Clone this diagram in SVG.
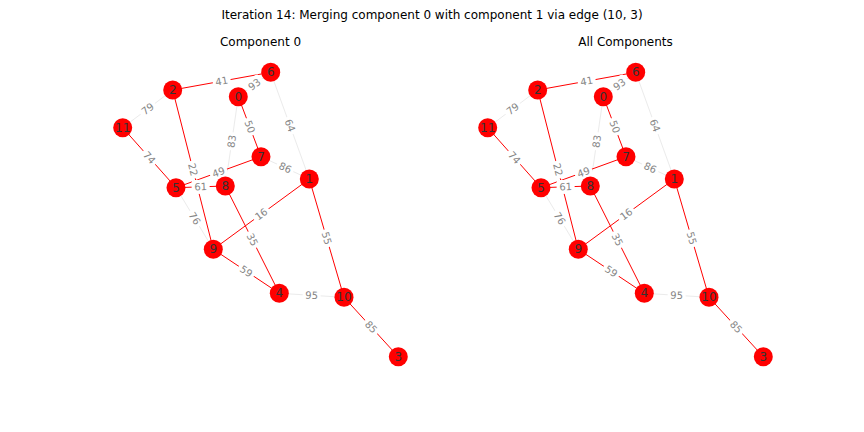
<svg xmlns="http://www.w3.org/2000/svg" width="864" height="432" viewBox="0 0 864 432">
<style>
text{font-family:"DejaVu Sans","Liberation Sans",sans-serif}
.title{font-size:12px;fill:#000;text-anchor:middle}
.eg{stroke:#ebebeb;stroke-width:1;fill:none}
.er{stroke:#ff0000;stroke-width:1;fill:none}
.lb text{font-size:10px;fill:#858585;text-anchor:middle;dominant-baseline:central}
.nd circle{fill:#ff0000}
.nd text{font-size:12px;fill:#333;text-anchor:middle;dominant-baseline:central}
</style>
<defs>
<rect id="bx" x="-9" y="-7" width="18" height="14" rx="3" fill="#fff"/>
</defs>
<rect width="864" height="432" fill="#fff"/>
<text class="title" x="432" y="19">Iteration 14: Merging component 0 with component 1 via edge (10, 3)</text>
<text class="title" x="260.5" y="46">Component 0</text>
<text class="title" x="625.5" y="46">All Components</text>

<!-- LEFT PANEL -->
<g id="left-connectors">
<line class="eg" x1="238.3" y1="96.7" x2="270.7" y2="72.3"/>
<line class="eg" x1="270.7" y1="72.3" x2="309.3" y2="179"/>
<line class="eg" x1="172.7" y1="90" x2="122.7" y2="127.7"/>
<line class="eg" x1="238.3" y1="96.7" x2="225.3" y2="186"/>
<line class="eg" x1="261" y1="156.7" x2="309.3" y2="179"/>
<line class="eg" x1="176" y1="187.7" x2="213.3" y2="249.3"/>
<line class="eg" x1="279.3" y1="293.3" x2="344" y2="297.3"/>
<line class="er" x1="172.7" y1="90" x2="270.7" y2="72.3"/>
<line class="er" x1="172.7" y1="90" x2="213.3" y2="249.3"/>
<line class="er" x1="238.3" y1="96.7" x2="261" y2="156.7"/>
<line class="er" x1="122.7" y1="127.7" x2="176" y2="187.7"/>
<line class="er" x1="176" y1="187.7" x2="261" y2="156.7"/>
<line class="er" x1="176" y1="187.7" x2="225.3" y2="186"/>
<line class="er" x1="213.3" y1="249.3" x2="309.3" y2="179"/>
<line class="er" x1="225.3" y1="186" x2="279.3" y2="293.3"/>
<line class="er" x1="213.3" y1="249.3" x2="279.3" y2="293.3"/>
<line class="er" x1="309.3" y1="179" x2="344" y2="297.3"/>
<line class="er" x1="344" y1="297.3" x2="398.3" y2="356.7"/>
<g class="lb" transform="translate(221.7,81.15) rotate(-10.2)"><use href="#bx"/><text>41</text></g>
<g class="lb" transform="translate(254.5,84.5) rotate(-37)"><use href="#bx"/><text>93</text></g>
<g class="lb" transform="translate(290,125.65) rotate(70.1)"><use href="#bx"/><text>64</text></g>
<g class="lb" transform="translate(147.7,108.85) rotate(-37)"><use href="#bx"/><text>79</text></g>
<g class="lb" transform="translate(193,169.65) rotate(75.7)"><use href="#bx"/><text>22</text></g>
<g class="lb" transform="translate(249.65,126.7) rotate(69.3)"><use href="#bx"/><text>50</text></g>
<g class="lb" transform="translate(231.8,141.35) rotate(-81.7)"><use href="#bx"/><text>83</text></g>
<g class="lb" transform="translate(149.35,157.7) rotate(48.4)"><use href="#bx"/><text>74</text></g>
<g class="lb" transform="translate(218.5,172.2) rotate(-20)"><use href="#bx"/><text>49</text></g>
<g class="lb" transform="translate(285.15,167.85) rotate(24.8)"><use href="#bx"/><text>86</text></g>
<g class="lb" transform="translate(200.65,186.85) rotate(-2)"><use href="#bx"/><text>61</text></g>
<g class="lb" transform="translate(194.65,218.5) rotate(58.8)"><use href="#bx"/><text>76</text></g>
<g class="lb" transform="translate(261.3,214.15) rotate(-36.2)"><use href="#bx"/><text>16</text></g>
<g class="lb" transform="translate(252.3,239.65) rotate(63.3)"><use href="#bx"/><text>35</text></g>
<g class="lb" transform="translate(246.3,271.3) rotate(33.7)"><use href="#bx"/><text>59</text></g>
<g class="lb" transform="translate(326.65,238.15) rotate(73.7)"><use href="#bx"/><text>55</text></g>
<g class="lb" transform="translate(311.65,295.3) rotate(3.5)"><use href="#bx"/><text>95</text></g>
<g class="lb" transform="translate(371.15,327) rotate(47.6)"><use href="#bx"/><text>85</text></g>
</g>
<g id="L-n0" class="nd"><circle cx="238.3" cy="96.7" r="9.5"/><text x="238.3" y="96.7">0</text></g>
<g id="L-n1" class="nd"><circle cx="309.3" cy="179" r="9.5"/><text x="309.3" y="179">1</text></g>
<g id="L-n2" class="nd"><circle cx="172.7" cy="90" r="9.5"/><text x="172.7" y="90">2</text></g>
<g id="L-n3" class="nd"><circle cx="398.3" cy="356.7" r="9.5"/><text x="398.3" y="356.7">3</text></g>
<g id="L-n4" class="nd"><circle cx="279.3" cy="293.3" r="9.5"/><text x="279.3" y="293.3">4</text></g>
<g id="L-n5" class="nd"><circle cx="176" cy="187.7" r="9.5"/><text x="176" y="187.7">5</text></g>
<g id="L-n6" class="nd"><circle cx="270.7" cy="72.3" r="9.5"/><text x="270.7" y="72.3">6</text></g>
<g id="L-n7" class="nd"><circle cx="261" cy="156.7" r="9.5"/><text x="261" y="156.7">7</text></g>
<g id="L-n8" class="nd"><circle cx="225.3" cy="186" r="9.5"/><text x="225.3" y="186">8</text></g>
<g id="L-n9" class="nd"><circle cx="213.3" cy="249.3" r="9.5"/><text x="213.3" y="249.3">9</text></g>
<g id="L-n10" class="nd"><circle cx="344" cy="297.3" r="9.5"/><text x="344" y="297.3">10</text></g>
<g id="L-n11" class="nd"><circle cx="122.7" cy="127.7" r="9.5"/><text x="122.7" y="127.7">11</text></g>

<!-- RIGHT PANEL -->
<g id="right-connectors">
<line class="eg" x1="603.3" y1="96.7" x2="635.7" y2="72.3"/>
<line class="eg" x1="635.7" y1="72.3" x2="674.3" y2="179"/>
<line class="eg" x1="537.7" y1="90" x2="487.7" y2="127.7"/>
<line class="eg" x1="603.3" y1="96.7" x2="590.3" y2="186"/>
<line class="eg" x1="626" y1="156.7" x2="674.3" y2="179"/>
<line class="eg" x1="541" y1="187.7" x2="578.3" y2="249.3"/>
<line class="eg" x1="644.3" y1="293.3" x2="709" y2="297.3"/>
<line class="er" x1="537.7" y1="90" x2="635.7" y2="72.3"/>
<line class="er" x1="537.7" y1="90" x2="578.3" y2="249.3"/>
<line class="er" x1="603.3" y1="96.7" x2="626" y2="156.7"/>
<line class="er" x1="487.7" y1="127.7" x2="541" y2="187.7"/>
<line class="er" x1="541" y1="187.7" x2="626" y2="156.7"/>
<line class="er" x1="541" y1="187.7" x2="590.3" y2="186"/>
<line class="er" x1="578.3" y1="249.3" x2="674.3" y2="179"/>
<line class="er" x1="590.3" y1="186" x2="644.3" y2="293.3"/>
<line class="er" x1="578.3" y1="249.3" x2="644.3" y2="293.3"/>
<line class="er" x1="674.3" y1="179" x2="709" y2="297.3"/>
<line class="er" x1="709" y1="297.3" x2="763.3" y2="356.7"/>
<g class="lb" transform="translate(586.7,81.15) rotate(-10.2)"><use href="#bx"/><text>41</text></g>
<g class="lb" transform="translate(619.5,84.5) rotate(-37)"><use href="#bx"/><text>93</text></g>
<g class="lb" transform="translate(655,125.65) rotate(70.1)"><use href="#bx"/><text>64</text></g>
<g class="lb" transform="translate(512.7,108.85) rotate(-37)"><use href="#bx"/><text>79</text></g>
<g class="lb" transform="translate(558,169.65) rotate(75.7)"><use href="#bx"/><text>22</text></g>
<g class="lb" transform="translate(614.65,126.7) rotate(69.3)"><use href="#bx"/><text>50</text></g>
<g class="lb" transform="translate(596.8,141.35) rotate(-81.7)"><use href="#bx"/><text>83</text></g>
<g class="lb" transform="translate(514.35,157.7) rotate(48.4)"><use href="#bx"/><text>74</text></g>
<g class="lb" transform="translate(583.5,172.2) rotate(-20)"><use href="#bx"/><text>49</text></g>
<g class="lb" transform="translate(650.15,167.85) rotate(24.8)"><use href="#bx"/><text>86</text></g>
<g class="lb" transform="translate(565.65,186.85) rotate(-2)"><use href="#bx"/><text>61</text></g>
<g class="lb" transform="translate(559.65,218.5) rotate(58.8)"><use href="#bx"/><text>76</text></g>
<g class="lb" transform="translate(626.3,214.15) rotate(-36.2)"><use href="#bx"/><text>16</text></g>
<g class="lb" transform="translate(617.3,239.65) rotate(63.3)"><use href="#bx"/><text>35</text></g>
<g class="lb" transform="translate(611.3,271.3) rotate(33.7)"><use href="#bx"/><text>59</text></g>
<g class="lb" transform="translate(691.65,238.15) rotate(73.7)"><use href="#bx"/><text>55</text></g>
<g class="lb" transform="translate(676.65,295.3) rotate(3.5)"><use href="#bx"/><text>95</text></g>
<g class="lb" transform="translate(736.15,327) rotate(47.6)"><use href="#bx"/><text>85</text></g>
</g>
<g id="R-n0" class="nd"><circle cx="603.3" cy="96.7" r="9.5"/><text x="603.3" y="96.7">0</text></g>
<g id="R-n1" class="nd"><circle cx="674.3" cy="179" r="9.5"/><text x="674.3" y="179">1</text></g>
<g id="R-n2" class="nd"><circle cx="537.7" cy="90" r="9.5"/><text x="537.7" y="90">2</text></g>
<g id="R-n3" class="nd"><circle cx="763.3" cy="356.7" r="9.5"/><text x="763.3" y="356.7">3</text></g>
<g id="R-n4" class="nd"><circle cx="644.3" cy="293.3" r="9.5"/><text x="644.3" y="293.3">4</text></g>
<g id="R-n5" class="nd"><circle cx="541" cy="187.7" r="9.5"/><text x="541" y="187.7">5</text></g>
<g id="R-n6" class="nd"><circle cx="635.7" cy="72.3" r="9.5"/><text x="635.7" y="72.3">6</text></g>
<g id="R-n7" class="nd"><circle cx="626" cy="156.7" r="9.5"/><text x="626" y="156.7">7</text></g>
<g id="R-n8" class="nd"><circle cx="590.3" cy="186" r="9.5"/><text x="590.3" y="186">8</text></g>
<g id="R-n9" class="nd"><circle cx="578.3" cy="249.3" r="9.5"/><text x="578.3" y="249.3">9</text></g>
<g id="R-n10" class="nd"><circle cx="709" cy="297.3" r="9.5"/><text x="709" y="297.3">10</text></g>
<g id="R-n11" class="nd"><circle cx="487.7" cy="127.7" r="9.5"/><text x="487.7" y="127.7">11</text></g>
</svg>
